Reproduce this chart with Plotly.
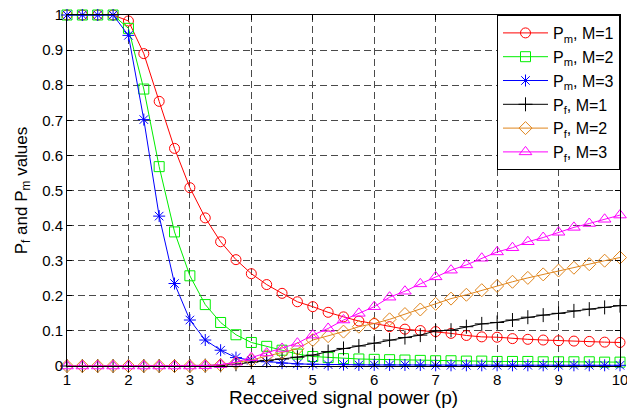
import plotly.graph_objects as go

# Received signal power sweep, step 0.25
p = [1 + 0.25 * i for i in range(37)]

x_ticks = [1, 2, 3, 4, 5, 6, 7, 8, 9, 10]
y_ticks = [0, 0.1, 0.2, 0.3, 0.4, 0.5, 0.6, 0.7, 0.8, 0.9, 1]
y_tick_text = ["0", "0.1", "0.2", "0.3", "0.4", "0.5", "0.6", "0.7", "0.8", "0.9", "1"]

pm_m1 = [1, 1, 1, 1, 0.983, 0.89, 0.754, 0.62, 0.508, 0.422, 0.354, 0.303, 0.263,
         0.232, 0.207, 0.183, 0.169, 0.153, 0.140, 0.128, 0.121, 0.112, 0.105, 0.101,
         0.098, 0.093, 0.087, 0.083, 0.082, 0.078, 0.076, 0.074, 0.072, 0.071, 0.070,
         0.068, 0.067]
pm_m2 = [1, 1, 1, 1, 0.962, 0.789, 0.568, 0.382, 0.257, 0.175, 0.124, 0.089, 0.067,
         0.056, 0.045, 0.034, 0.027, 0.024, 0.021, 0.020, 0.019, 0.018, 0.017, 0.016,
         0.015, 0.015, 0.014, 0.014, 0.013, 0.013, 0.013, 0.012, 0.012, 0.012, 0.012,
         0.011, 0.011]
pm_m3 = [1, 1, 1, 1, 0.942, 0.702, 0.427, 0.235, 0.131, 0.074, 0.045, 0.024, 0.016,
         0.012, 0.008, 0.006, 0.005, 0.004, 0.004, 0.003, 0.003, 0.003, 0.003, 0.003,
         0.002, 0.002, 0.002, 0.002, 0.002, 0.002, 0.002, 0.002, 0.002, 0.002, 0.002,
         0.002, 0.002]
pf_m1 = [0, 0, 0, 0, 0, 0, 0, 0, 0, 0.001, 0.002, 0.005, 0.011, 0.016, 0.020, 0.025,
         0.031, 0.041, 0.050, 0.057, 0.065, 0.074, 0.081, 0.088, 0.100, 0.102, 0.112,
         0.120, 0.124, 0.131, 0.139, 0.145, 0.150, 0.157, 0.162, 0.167, 0.172]
pf_m2 = [0, 0, 0, 0, 0, 0, 0, 0, 0, 0.001, 0.003, 0.009, 0.017, 0.028, 0.038, 0.049,
         0.074, 0.085, 0.098, 0.112, 0.121, 0.133, 0.148, 0.161, 0.177, 0.192, 0.203,
         0.216, 0.228, 0.240, 0.251, 0.261, 0.272, 0.280, 0.290, 0.300, 0.309]
pf_m3 = [0, 0, 0, 0, 0, 0, 0, 0, 0, 0.001, 0.004, 0.011, 0.024, 0.037, 0.050, 0.065,
         0.088, 0.107, 0.131, 0.150, 0.169, 0.196, 0.213, 0.234, 0.254, 0.273, 0.288,
         0.307, 0.325, 0.337, 0.354, 0.366, 0.381, 0.395, 0.406, 0.418, 0.430]

series = [
    ("P<sub>m</sub>, M=1", pm_m1, "#ff0000", "circle-open", 10),
    ("P<sub>m</sub>, M=2", pm_m2, "#00ee00", "square-open", 10),
    ("P<sub>m</sub>, M=3", pm_m3, "#0000ff", "asterisk-open", 10),
    ("P<sub>f</sub>, M=1", pf_m1, "#000000", "cross-thin-open", 10),
    ("P<sub>f</sub>, M=2", pf_m2, "#e0851c", "diamond-open", 10),
    ("P<sub>f</sub>, M=3", pf_m3, "#ff00ff", "triangle-up-open", 11),
]

fig = go.Figure()
for name, vals, color, symbol, size in series:
    fig.add_trace(go.Scatter(
        x=p, y=vals, name=name, mode="lines+markers",
        line=dict(color=color, width=1),
        marker=dict(symbol=symbol, size=size, color=color,
                    line=dict(color=color, width=1)),
        cliponaxis=False,
    ))

axis_common = dict(
    showline=True, linecolor="black", linewidth=1, mirror="ticks",
    ticks="inside", ticklen=5, tickcolor="black",
    showgrid=True, gridcolor="#4a4a4a", gridwidth=1, griddash="7px,4px",
    zeroline=False, ticklabeloverflow="allow", automargin=False,
    tickfont=dict(family="Liberation Sans, Arial", size=15, color="black"),
)

fig.update_xaxes(range=[1, 10], tickmode="array", tickvals=x_ticks,
                 title=dict(text="Recceived signal power (p)", standoff=1,
                            font=dict(family="Liberation Sans, Arial", size=19, color="black")),
                 **axis_common)
fig.update_yaxes(range=[0, 1], tickmode="array", tickvals=y_ticks, ticktext=y_tick_text,
                 title=dict(text="P<sub>f</sub> and P<sub>m</sub> values", standoff=10,
                            font=dict(family="Liberation Sans, Arial", size=17, color="black")),
                 **axis_common)

fig.update_layout(
    width=627, height=408,
    margin=dict(l=67, r=7, t=15, b=42, autoexpand=False),
    paper_bgcolor="white", plot_bgcolor="white",
    font=dict(family="Liberation Sans, Arial", color="black"),
    legend=dict(x=1.0, y=1.0, xanchor="right", yanchor="top",
                bgcolor="white", bordercolor="black", borderwidth=1,
                font=dict(size=16, color="black"), itemwidth=45,
                tracegroupgap=0),
    showlegend=True,
)

fig.write_html("out.html")
